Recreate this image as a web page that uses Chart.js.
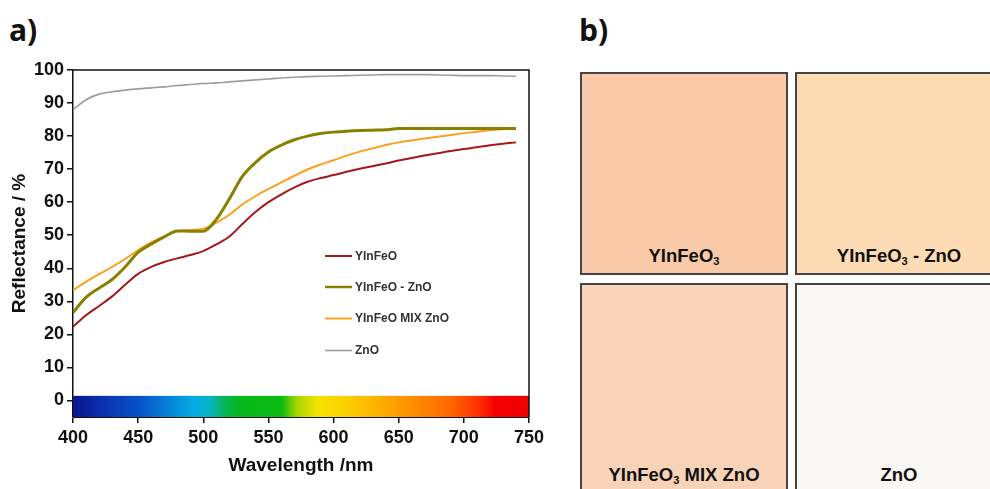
<!DOCTYPE html>
<html><head><meta charset="utf-8">
<script src="https://cdn.jsdelivr.net/npm/chart.js@4"></script>
<style>
html,body{margin:0;padding:0;background:#fff;width:990px;height:489px;overflow:hidden;position:relative;}
#wrap{position:absolute;left:0;top:0;width:560px;height:489px;}
.lab{position:absolute;font-family:"Open Sans",sans-serif;font-weight:700;font-size:30px;line-height:30px;color:#111;}
.sq{position:absolute;box-sizing:border-box;border:2px solid #444;}
.sqlab{position:absolute;left:0;right:0;text-align:center;font-family:"Liberation Sans",Arial,sans-serif;font-weight:700;font-size:18.5px;line-height:18.5px;color:#111;white-space:nowrap;}
.sqlab sub{font-size:0.6em;vertical-align:-0.28em;line-height:0;}
</style></head>
<body>
<div class="lab" style="left:9px;top:15px;">a)</div>
<div class="lab" style="left:579px;top:15px;">b)</div>
<div id="wrap"><canvas id="c" width="560" height="489"></canvas></div>

<div class="sq" style="left:580px;top:72px;width:208px;height:203px;background:#f9c9a8;">
  <div class="sqlab" style="top:173px;">YInFeO<sub>3</sub></div></div>
<div class="sq" style="left:795px;top:72px;width:208px;height:203px;background:#fedcb3;">
  <div class="sqlab" style="top:173px;">YInFeO<sub>3</sub> - ZnO</div></div>
<div class="sq" style="left:580px;top:283px;width:208px;height:240px;background:#f9d3b8;">
  <div class="sqlab" style="top:181px;">YInFeO<sub>3</sub> MIX ZnO</div></div>
<div class="sq" style="left:795px;top:283px;width:208px;height:240px;background:#f9f8f4;">
  <div class="sqlab" style="top:181px;">ZnO</div></div>

<script>
// ---- data ----
const wavelengths = [400,410,420,430,440,450,460,470,480,490,500,510,520,530,540,550,560,570,580,590,600,610,620,630,640,650,660,670,680,690,700,710,720,730,740];
const yinfeo      = [22.3,25.8,28.6,31.5,35.0,38.3,40.4,41.9,43.0,44.0,45.2,47.2,49.6,53.4,57.0,60.0,62.4,64.5,66.2,67.3,68.2,69.2,70.1,70.9,71.7,72.6,73.4,74.1,74.8,75.5,76.1,76.6,77.2,77.7,78.1];
const yinfeoZnO   = [26.6,31.2,34.0,36.6,40.4,44.8,47.3,49.5,51.3,51.2,51.2,54.8,61.0,67.8,72.0,75.2,77.3,78.9,80.0,80.8,81.2,81.5,81.7,81.8,81.9,82.3,82.3,82.3,82.3,82.3,82.3,82.3,82.3,82.3,82.3];
const yinfeoMix   = [33.4,35.9,38.2,40.4,42.8,45.5,47.8,49.6,51.2,51.6,52.0,53.8,56.2,59.3,61.8,64.0,66.0,68.0,69.9,71.4,72.7,74.1,75.3,76.3,77.3,78.1,78.7,79.3,79.8,80.3,80.9,81.3,81.8,82.1,82.3];
const zno         = [88.0,91.0,92.7,93.4,93.9,94.3,94.6,94.9,95.3,95.6,95.9,96.1,96.4,96.7,97.0,97.3,97.6,97.8,98.0,98.1,98.2,98.3,98.4,98.5,98.6,98.6,98.6,98.6,98.5,98.4,98.3,98.3,98.3,98.2,98.1];
const seriesLabels = ['YInFeO','YInFeO - ZnO','YInFeO MIX ZnO','ZnO'];
const xTicks = [400,450,500,550,600,650,700,750];
const yTicks = [0,10,20,30,40,50,60,70,80,90,100];
// spectrum colour stops (nm, colour)
const spectrumNm     = [400,425,450,475,492,505,515,528,560,572,588,610,650,690,712,724,750];
const spectrumColors = ['#0b148f','#0a35b0','#0652c6','#0586d6','#03ace6','#06b3c4','#09b560','#06b81a','#0cba10','#a8d600','#f6e300','#fccf00','#fd9c00','#ff6600','#ff2f00','#f50000','#ee0000'];

const colors = ['#a5171c','#8a8000','#ffa01c','#9d9d9d'];
const widths = [2,3,2,1.6];
const series = [yinfeo, yinfeoZnO, yinfeoMix, zno];

const datasets = series.map((s,i)=>({
  label: seriesLabels[i],
  data: wavelengths.map((w,j)=>({x:w,y:s[j]})),
  borderColor: colors[i], backgroundColor: colors[i],
  borderWidth: widths[i], pointRadius: 0, cubicInterpolationMode:'monotone', fill:false
}));

const FONT = 'Liberation Sans';

const spectrumPlugin = {
  id:'spectrum',
  beforeDatasetsDraw(chart){
    const {ctx, scales:{x,y}} = chart;
    const x0 = x.getPixelForValue(spectrumNm[0]), x1 = x.getPixelForValue(spectrumNm[spectrumNm.length-1]);
    const yt = y.getPixelForValue(1.4), yb = y.getPixelForValue(-5);
    const g = ctx.createLinearGradient(x0,0,x1,0);
    spectrumNm.forEach((w,i)=>g.addColorStop((w-spectrumNm[0])/(spectrumNm[spectrumNm.length-1]-spectrumNm[0]), spectrumColors[i]));
    ctx.save(); ctx.fillStyle = g; ctx.fillRect(x0,yt,x1-x0,yb-yt); ctx.restore();
  },
  afterDraw(chart){
    const {ctx, chartArea:a} = chart;
    ctx.save(); ctx.strokeStyle='#111'; ctx.lineWidth=1.5;
    ctx.beginPath(); ctx.moveTo(a.left,a.top); ctx.lineTo(a.right,a.top); ctx.lineTo(a.right,a.bottom); ctx.stroke();
    // legend
    const ys = [256,287,318.5,350.5];
    ctx.font = 'bold 12px "'+FONT+'"'; ctx.textBaseline='middle'; ctx.textAlign='left';
    chart.data.datasets.forEach((d,i)=>{
      ctx.strokeStyle=d.borderColor; ctx.lineWidth=Math.min(d.borderWidth,2.5);
      ctx.beginPath(); ctx.moveTo(325,ys[i]); ctx.lineTo(352,ys[i]); ctx.stroke();
      ctx.fillStyle='#333'; ctx.fillText(d.label,355,ys[i]+0.5);
    });
    ctx.restore();
  }
};

new Chart(document.getElementById('c'), {
  type:'line',
  data:{datasets},
  options:{
    responsive:false, animation:false,
    layout:{padding:{top:70,right:31,left:0,bottom:0}},
    plugins:{legend:{display:false},tooltip:{enabled:false}},
    scales:{
      x:{type:'linear',min:400,max:750,
        afterBuildTicks(s){s.ticks = xTicks.map(v=>({value:v}));},
        afterFit(s){s.height=72;},
        grid:{drawOnChartArea:false,drawTicks:true,tickLength:6,color:'#111',lineWidth:1.5},
        border:{display:true,color:'#111',width:1},
        ticks:{font:{family:FONT,weight:'bold',size:18},color:'#111',padding:4,maxRotation:0},
        title:{display:true,text:'Wavelength /nm',font:{family:FONT,weight:'bold',size:19},color:'#111',padding:{top:0,bottom:12}}
      },
      y:{type:'linear',min:-5,max:100,
        afterBuildTicks(s){s.ticks = yTicks.map(v=>({value:v}));},
        afterFit(s){s.width=73;},
        grid:{drawOnChartArea:false,drawTicks:true,tickLength:6,color:'#111',lineWidth:1.5},
        border:{display:true,color:'#111',width:1.5},
        ticks:{font:{family:FONT,weight:'bold',size:18},color:'#111',padding:3},
        title:{display:true,text:'Reflectance / %',font:{family:FONT,weight:'bold',size:19},color:'#111',padding:{top:8,bottom:0}}
      }
    }
  },
  plugins:[spectrumPlugin]
});
</script>
</body></html>
